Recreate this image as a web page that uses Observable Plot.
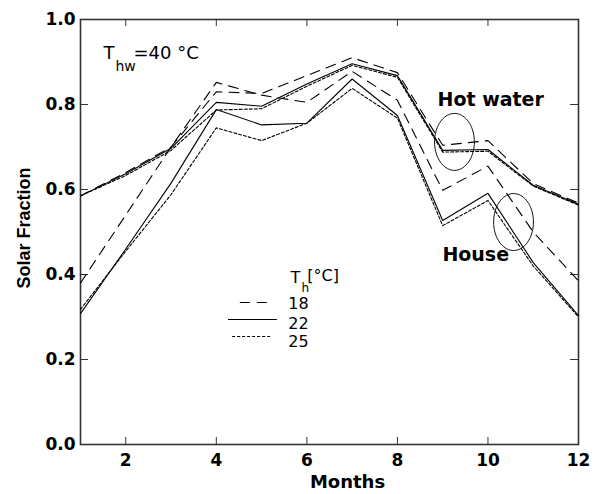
<!DOCTYPE html>
<html>
<head>
<meta charset="utf-8">
<script src="https://cdn.jsdelivr.net/npm/d3@7"></script>
<script src="https://cdn.jsdelivr.net/npm/@observablehq/plot@0.6"></script>
<style>
  html, body { margin: 0; padding: 0; background: #fff; }
  #chart svg { display: block; }
</style>
</head>
<body>
<div id="chart"></div>
<script>
// Months on x axis
const months = [1, 2, 3, 4, 5, 6, 7, 8, 9, 10, 11, 12];
const xTicks = [2, 4, 6, 8, 10, 12];
const yTicks = [0, 0.2, 0.4, 0.6, 0.8, 1.0];

// Hot water solar fraction, by space heating set temperature Th
const hotWater18 = [0.585, 0.640, 0.700, 0.830, 0.826, 0.868, 0.910, 0.875, 0.704, 0.715, 0.614, 0.568];
const hotWater22 = [0.585, 0.637, 0.697, 0.805, 0.796, 0.848, 0.896, 0.868, 0.692, 0.694, 0.610, 0.565];
const hotWater25 = [0.585, 0.633, 0.692, 0.787, 0.790, 0.843, 0.892, 0.864, 0.688, 0.690, 0.608, 0.563];

// House (space heating) solar fraction
const house18 = [0.380, 0.540, 0.700, 0.852, 0.822, 0.805, 0.878, 0.810, 0.598, 0.655, 0.500, 0.385];
const house22 = [0.308, 0.460, 0.615, 0.788, 0.752, 0.756, 0.860, 0.774, 0.527, 0.591, 0.428, 0.303];
const house25 = [0.318, 0.455, 0.588, 0.745, 0.715, 0.756, 0.838, 0.768, 0.515, 0.574, 0.420, 0.300];

const legendLabels = ["18", "22", "25"];

const series = [
  {id: "hw18", th: "18", values: hotWater18},
  {id: "hw22", th: "22", values: hotWater22},
  {id: "hw25", th: "25", values: hotWater25},
  {id: "h18", th: "18", values: house18},
  {id: "h22", th: "22", values: house22},
  {id: "h25", th: "25", values: house25}
];
const data = series.flatMap(s => s.values.map((v, i) => ({month: months[i], value: v, id: s.id, th: s.th})));

const dash = {"18": "10,7", "22": "none", "25": "3,2"};

function ellipse(cx, cy, rx, ry) {
  return d3.range(0, 73).map(k => {
    const a = (k / 72) * 2 * Math.PI;
    return {x: cx + rx * Math.cos(a), y: cy + ry * Math.sin(a)};
  });
}

const W = 602, H = 494;
const mL = 80, mR = 24, mT = 19, mB = 50;
const plotH = H - mT - mB, plotW = W - mL - mR;

const sans = "'DejaVu Sans', sans-serif";
const arial = "'Liberation Sans', Arial, sans-serif";

const lineMarks = legendLabels.map(t =>
  Plot.line(data.filter(d => d.th === t), {
    x: "month", y: "value", z: "id",
    stroke: "#000", strokeWidth: 1.1, strokeDasharray: dash[t]
  })
);

const legendY = [0.334, 0.294, 0.254];
const legendX1 = [4.53, 4.27, 4.36];
const legendX2 = [5.26, 5.35, 5.24];
const legendTextY = [0.331, 0.285, 0.242];

const legendMarks = legendLabels.flatMap((t, i) => [
  Plot.ruleY([legendY[i]], {x1: legendX1[i], x2: legendX2[i], stroke: "#000", strokeWidth: 1.1, strokeDasharray: dash[t]}),
  Plot.text([t], {x: 5.59, y: legendTextY[i], text: d => d, textAnchor: "start", fontSize: 16, fontFamily: sans, fill: "#000"})
]);

const chart = Plot.plot({
  width: W, height: H,
  marginLeft: mL, marginRight: mR, marginTop: mT, marginBottom: mB,
  style: {fontFamily: sans, background: "#fff", color: "#000"},
  x: {domain: [1, 12], label: null},
  y: {domain: [0, 1], label: null},
  marks: [
    Plot.frame({stroke: "#333", strokeWidth: 1.6}),
    // inward ticks on all four sides
    Plot.tickX(xTicks, {x: d => d, insetTop: plotH - 7, stroke: "#333"}),
    Plot.tickX(xTicks, {x: d => d, insetBottom: plotH - 7, stroke: "#333"}),
    Plot.tickY(yTicks, {y: d => d, insetRight: plotW - 8, stroke: "#333"}),
    Plot.tickY(yTicks, {y: d => d, insetLeft: plotW - 8, stroke: "#333"}),
    Plot.axisX({ticks: xTicks, tickSize: 0, tickPadding: 9, fontSize: 17, fontWeight: "bold", fontFamily: sans, label: null}),
    Plot.axisY({ticks: yTicks, tickSize: 0, tickPadding: 5, tickFormat: d3.format(".1f"), fontSize: 17, fontWeight: "bold", fontFamily: sans, label: null}),
    Plot.text(["Months"], {frameAnchor: "bottom", textAnchor: "middle", lineAnchor: "middle", dy: 38, dx: 18, fontSize: 18, fontWeight: "bold", fontFamily: sans, fill: "#000"}),
    Plot.text(["Solar Fraction"], {frameAnchor: "left", textAnchor: "middle", lineAnchor: "middle", dx: -56, dy: -4, rotate: -90, fontSize: 18, fontWeight: "bold", fontFamily: arial, fill: "#000"}),
    ...lineMarks,
    // ellipses marking the two groups
    Plot.line(ellipse(9.26, 0.712, 0.44, 0.067), {x: "x", y: "y", stroke: "#111", strokeWidth: 1}),
    Plot.line(ellipse(10.565, 0.5235, 0.44, 0.067), {x: "x", y: "y", stroke: "#111", strokeWidth: 1}),
    Plot.text(["Hot water"], {x: 10.06, y: 0.81, fontSize: 19, fontWeight: "bold", fontFamily: sans, fill: "#000"}),
    Plot.text(["House"], {x: 9.73, y: 0.445, fontSize: 19, fontWeight: "bold", fontFamily: sans, fill: "#000"}),
    // T_hw = 40 °C
    Plot.text(["T"], {x: 1.508, y: 0.92, textAnchor: "start", fontSize: 18, fontFamily: sans, fill: "#000"}),
    Plot.text(["hw"], {x: 1.773, y: 0.89, textAnchor: "start", fontSize: 14, fontFamily: sans, fill: "#000"}),
    Plot.text(["=40 °C"], {x: 2.17, y: 0.92, textAnchor: "start", fontSize: 18, fontFamily: sans, fill: "#000"}),
    // legend header T_h[°C]
    Plot.text(["T"], {x: 5.64, y: 0.393, textAnchor: "start", fontSize: 16, fontFamily: sans, fill: "#000"}),
    Plot.text(["h"], {x: 5.88, y: 0.368, textAnchor: "start", fontSize: 12, fontFamily: sans, fill: "#000"}),
    Plot.text(["[°C]"], {x: 6.01, y: 0.396, textAnchor: "start", fontSize: 16, fontFamily: sans, fill: "#000"}),
    ...legendMarks
  ]
});

document.getElementById("chart").appendChild(chart);
</script>
</body>
</html>
